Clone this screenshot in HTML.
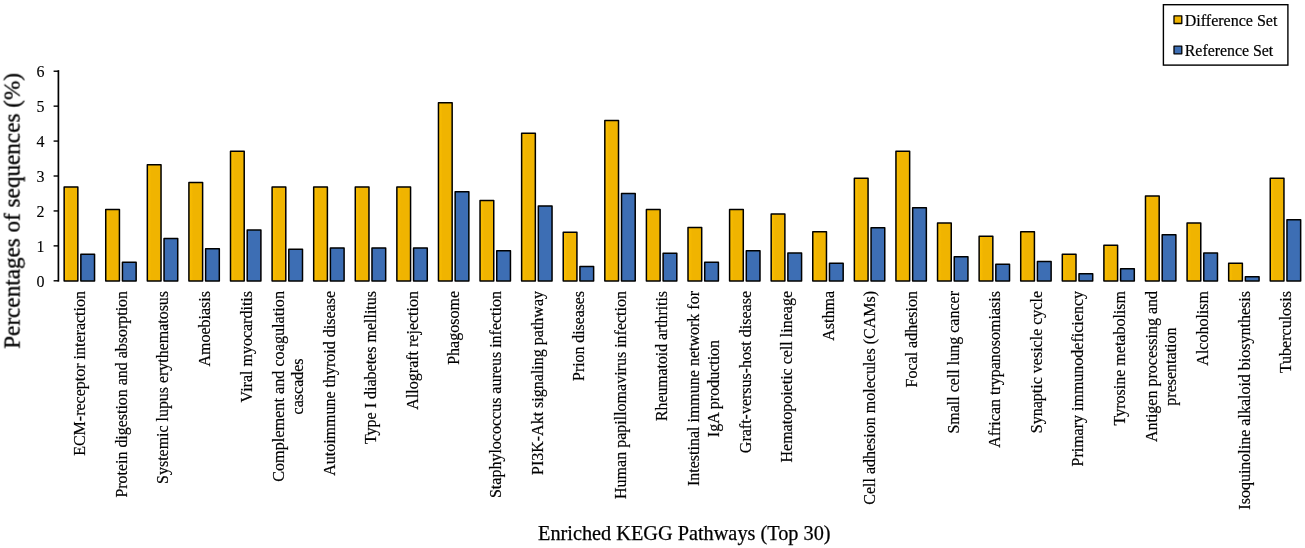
<!DOCTYPE html>
<html><head><meta charset="utf-8"><title>Enriched KEGG Pathways</title>
<style>
html,body{margin:0;padding:0;background:#fff;}
svg{display:block;font-family:"Liberation Serif","Times New Roman",serif;fill:#000;}
text{stroke:#000;stroke-width:0.2px;}
</style></head><body>
<svg width="1305" height="548" viewBox="0 0 1305 548">
<defs><filter id="soft" x="0" y="0" width="1305" height="548" filterUnits="userSpaceOnUse"><feGaussianBlur stdDeviation="0.3"/></filter><linearGradient id="yg" x1="0" y1="0" x2="1" y2="0"><stop offset="0" stop-color="#fcc000"/><stop offset="0.3" stop-color="#f0b400"/><stop offset="1" stop-color="#f0b400"/></linearGradient></defs>
<rect width="1305" height="548" fill="#fff"/>
<g filter="url(#soft)">

<g stroke="#000" stroke-width="1.5" stroke-linejoin="round">
<rect x="64.15" y="186.95" width="13.70" height="94.00" fill="url(#yg)"/>
<rect x="80.85" y="254.15" width="13.70" height="26.80" fill="#3c6eb4"/>
<rect x="105.74" y="209.55" width="13.70" height="71.40" fill="url(#yg)"/>
<rect x="122.44" y="262.15" width="13.70" height="18.80" fill="#3c6eb4"/>
<rect x="147.33" y="164.75" width="13.70" height="116.20" fill="url(#yg)"/>
<rect x="164.03" y="238.45" width="13.70" height="42.50" fill="#3c6eb4"/>
<rect x="188.92" y="182.55" width="13.70" height="98.40" fill="url(#yg)"/>
<rect x="205.62" y="248.65" width="13.70" height="32.30" fill="#3c6eb4"/>
<rect x="230.51" y="151.15" width="13.70" height="129.80" fill="url(#yg)"/>
<rect x="247.21" y="230.05" width="13.70" height="50.90" fill="#3c6eb4"/>
<rect x="272.10" y="186.95" width="13.70" height="94.00" fill="url(#yg)"/>
<rect x="288.80" y="249.35" width="13.70" height="31.60" fill="#3c6eb4"/>
<rect x="313.69" y="186.95" width="13.70" height="94.00" fill="url(#yg)"/>
<rect x="330.39" y="247.95" width="13.70" height="33.00" fill="#3c6eb4"/>
<rect x="355.28" y="186.95" width="13.70" height="94.00" fill="url(#yg)"/>
<rect x="371.98" y="247.95" width="13.70" height="33.00" fill="#3c6eb4"/>
<rect x="396.87" y="186.95" width="13.70" height="94.00" fill="url(#yg)"/>
<rect x="413.57" y="247.95" width="13.70" height="33.00" fill="#3c6eb4"/>
<rect x="438.46" y="102.65" width="13.70" height="178.30" fill="url(#yg)"/>
<rect x="455.16" y="191.75" width="13.70" height="89.20" fill="#3c6eb4"/>
<rect x="480.05" y="200.45" width="13.70" height="80.50" fill="url(#yg)"/>
<rect x="496.75" y="250.85" width="13.70" height="30.10" fill="#3c6eb4"/>
<rect x="521.64" y="133.35" width="13.70" height="147.60" fill="url(#yg)"/>
<rect x="538.34" y="205.95" width="13.70" height="75.00" fill="#3c6eb4"/>
<rect x="563.23" y="232.25" width="13.70" height="48.70" fill="url(#yg)"/>
<rect x="579.93" y="266.55" width="13.70" height="14.40" fill="#3c6eb4"/>
<rect x="604.82" y="120.55" width="13.70" height="160.40" fill="url(#yg)"/>
<rect x="621.52" y="193.55" width="13.70" height="87.40" fill="#3c6eb4"/>
<rect x="646.41" y="209.55" width="13.70" height="71.40" fill="url(#yg)"/>
<rect x="663.11" y="253.35" width="13.70" height="27.60" fill="#3c6eb4"/>
<rect x="688.00" y="227.45" width="13.70" height="53.50" fill="url(#yg)"/>
<rect x="704.70" y="262.15" width="13.70" height="18.80" fill="#3c6eb4"/>
<rect x="729.59" y="209.55" width="13.70" height="71.40" fill="url(#yg)"/>
<rect x="746.29" y="250.85" width="13.70" height="30.10" fill="#3c6eb4"/>
<rect x="771.18" y="213.95" width="13.70" height="67.00" fill="url(#yg)"/>
<rect x="787.88" y="253.05" width="13.70" height="27.90" fill="#3c6eb4"/>
<rect x="812.77" y="231.85" width="13.70" height="49.10" fill="url(#yg)"/>
<rect x="829.47" y="263.25" width="13.70" height="17.70" fill="#3c6eb4"/>
<rect x="854.36" y="178.25" width="13.70" height="102.70" fill="url(#yg)"/>
<rect x="871.06" y="227.85" width="13.70" height="53.10" fill="#3c6eb4"/>
<rect x="895.95" y="151.15" width="13.70" height="129.80" fill="url(#yg)"/>
<rect x="912.65" y="207.75" width="13.70" height="73.20" fill="#3c6eb4"/>
<rect x="937.54" y="223.05" width="13.70" height="57.90" fill="url(#yg)"/>
<rect x="954.24" y="256.65" width="13.70" height="24.30" fill="#3c6eb4"/>
<rect x="979.13" y="236.25" width="13.70" height="44.70" fill="url(#yg)"/>
<rect x="995.83" y="264.35" width="13.70" height="16.60" fill="#3c6eb4"/>
<rect x="1020.72" y="231.85" width="13.70" height="49.10" fill="url(#yg)"/>
<rect x="1037.42" y="261.45" width="13.70" height="19.50" fill="#3c6eb4"/>
<rect x="1062.31" y="254.15" width="13.70" height="26.80" fill="url(#yg)"/>
<rect x="1079.01" y="273.85" width="13.70" height="7.10" fill="#3c6eb4"/>
<rect x="1103.90" y="245.35" width="13.70" height="35.60" fill="url(#yg)"/>
<rect x="1120.60" y="268.75" width="13.70" height="12.20" fill="#3c6eb4"/>
<rect x="1145.49" y="196.05" width="13.70" height="84.90" fill="url(#yg)"/>
<rect x="1162.19" y="234.75" width="13.70" height="46.20" fill="#3c6eb4"/>
<rect x="1187.08" y="223.05" width="13.70" height="57.90" fill="url(#yg)"/>
<rect x="1203.78" y="253.05" width="13.70" height="27.90" fill="#3c6eb4"/>
<rect x="1228.67" y="263.25" width="13.70" height="17.70" fill="url(#yg)"/>
<rect x="1245.37" y="276.85" width="13.70" height="4.10" fill="#3c6eb4"/>
<rect x="1270.26" y="178.25" width="13.70" height="102.70" fill="url(#yg)"/>
<rect x="1286.96" y="219.85" width="13.70" height="61.10" fill="#3c6eb4"/>
</g>
<g stroke="#000" stroke-width="1.7" fill="none" stroke-linecap="square">
<path d="M58.4 71.0 V280.8"/>
</g>
<g stroke="#000" stroke-width="1.4" fill="none">
<path d="M53.6 280.80 H58.4"/>
<path d="M53.6 245.87 H58.4"/>
<path d="M53.6 210.94 H58.4"/>
<path d="M53.6 176.01 H58.4"/>
<path d="M53.6 141.08 H58.4"/>
<path d="M53.6 106.15 H58.4"/>
<path d="M53.6 71.22 H58.4"/>
</g>
<g font-size="16" text-anchor="end">
<text x="44.6" y="287.00" style="stroke-width:0.12px">0</text>
<text x="44.6" y="252.07" style="stroke-width:0.12px">1</text>
<text x="44.6" y="217.14" style="stroke-width:0.12px">2</text>
<text x="44.6" y="182.21" style="stroke-width:0.12px">3</text>
<text x="44.6" y="147.28" style="stroke-width:0.12px">4</text>
<text x="44.6" y="112.35" style="stroke-width:0.12px">5</text>
<text x="44.6" y="77.42" style="stroke-width:0.12px">6</text>
</g>
<text transform="translate(19.6 348.7) rotate(-90)" font-size="23.15" style="stroke-width:0.3px">Percentages of sequences (%)</text>
<text x="538" y="540" font-size="20.3" style="stroke-width:0.25px">Enriched KEGG Pathways (Top 30)</text>
<g font-size="16" text-anchor="end">
<text transform="translate(85.15 291.0) rotate(-90)">ECM-receptor interaction</text>
<text transform="translate(126.74 291.0) rotate(-90)" textLength="206.6" lengthAdjust="spacingAndGlyphs">Protein digestion and absorption</text>
<text transform="translate(168.33 291.0) rotate(-90)" textLength="192.9" lengthAdjust="spacingAndGlyphs">Systemic lupus erythematosus</text>
<text transform="translate(209.92 291.0) rotate(-90)">Amoebiasis</text>
<text transform="translate(251.51 291.0) rotate(-90)">Viral myocarditis</text>
<text transform="translate(283.50 291.00) rotate(-90)" textLength="190.8" lengthAdjust="spacingAndGlyphs">Complement and coagulation</text>
<text transform="translate(302.70 358.42) rotate(-90)">cascades</text>
<text transform="translate(334.69 291.0) rotate(-90)">Autoimmune thyroid disease</text>
<text transform="translate(376.28 291.0) rotate(-90)">Type I diabetes mellitus</text>
<text transform="translate(417.87 291.0) rotate(-90)">Allograft rejection</text>
<text transform="translate(459.46 291.0) rotate(-90)">Phagosome</text>
<text transform="translate(501.05 291.0) rotate(-90)">Staphylococcus aureus infection</text>
<text transform="translate(542.64 291.0) rotate(-90)">PI3K-Akt signaling pathway</text>
<text transform="translate(584.23 291.0) rotate(-90)" textLength="89.9" lengthAdjust="spacingAndGlyphs">Prion diseases</text>
<text transform="translate(625.82 291.0) rotate(-90)">Human papillomavirus infection</text>
<text transform="translate(667.41 291.0) rotate(-90)" textLength="130.0" lengthAdjust="spacingAndGlyphs">Rheumatoid arthritis</text>
<text transform="translate(699.40 291.00) rotate(-90)">Intestinal immune network for</text>
<text transform="translate(718.60 339.87) rotate(-90)">IgA production</text>
<text transform="translate(750.59 291.0) rotate(-90)">Graft-versus-host disease</text>
<text transform="translate(792.18 291.0) rotate(-90)">Hematopoietic cell lineage</text>
<text transform="translate(833.77 291.0) rotate(-90)">Asthma</text>
<text transform="translate(875.36 291.0) rotate(-90)">Cell adhesion molecules (CAMs)</text>
<text transform="translate(916.95 291.0) rotate(-90)">Focal adhesion</text>
<text transform="translate(958.54 291.0) rotate(-90)">Small cell lung cancer</text>
<text transform="translate(1000.13 291.0) rotate(-90)">African trypanosomiasis</text>
<text transform="translate(1041.72 291.0) rotate(-90)">Synaptic vesicle cycle</text>
<text transform="translate(1083.31 291.0) rotate(-90)">Primary immunodeficiency</text>
<text transform="translate(1124.90 291.0) rotate(-90)">Tyrosine metabolism</text>
<text transform="translate(1156.89 291.00) rotate(-90)">Antigen processing and</text>
<text transform="translate(1176.09 327.44) rotate(-90)">presentation</text>
<text transform="translate(1208.08 291.0) rotate(-90)">Alcoholism</text>
<text transform="translate(1249.67 291.0) rotate(-90)">Isoquinoline alkaloid biosynthesis</text>
<text transform="translate(1291.26 291.0) rotate(-90)">Tuberculosis</text>
</g>
<rect x="1163.4" y="4.7" width="124.5" height="60.4" fill="#fff" stroke="#000" stroke-width="1.4"/>
<rect x="1174" y="15.9" width="7.8" height="7.6" fill="#f0b400" stroke="#000" stroke-width="1.3" stroke-linejoin="round"/>
<rect x="1174" y="46.2" width="7.8" height="7.6" fill="#3c6eb4" stroke="#000" stroke-width="1.3" stroke-linejoin="round"/>
<text x="1184.8" y="25.6" font-size="16">Difference Set</text>
<text x="1184.8" y="55.9" font-size="16" textLength="88.4" lengthAdjust="spacingAndGlyphs">Reference Set</text>
</g></svg></body></html>
